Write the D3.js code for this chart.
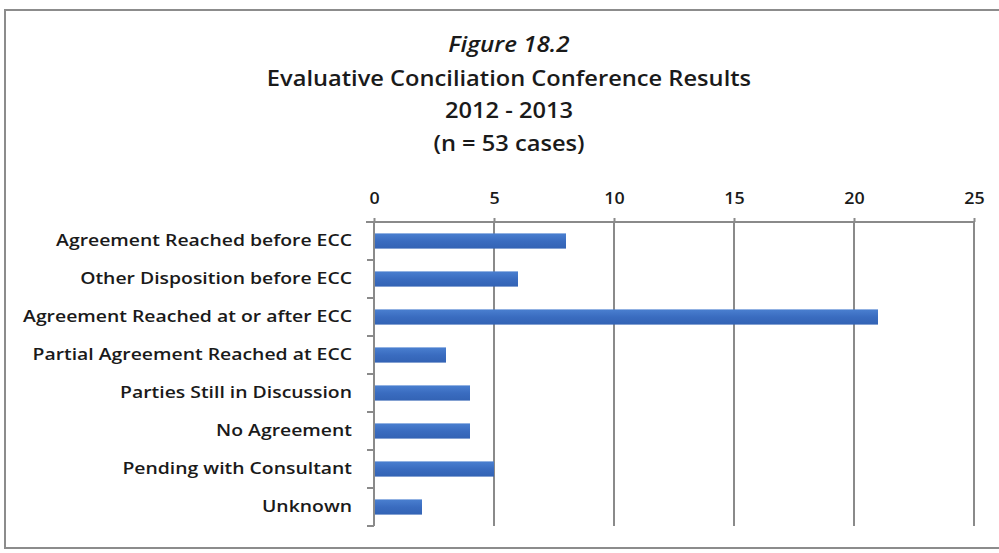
<!DOCTYPE html>
<html>
<head>
<meta charset="utf-8">
<script src="https://cdn.jsdelivr.net/npm/d3@7"></script>
<style>
  body { margin: 0; background: #fff; }
  svg { display: block; }
</style>
</head>
<body>
<div id="chart"></div>
<script>
const categories = [
  "Agreement Reached before ECC",
  "Other Disposition before ECC",
  "Agreement Reached at or after ECC",
  "Partial Agreement Reached at ECC",
  "Parties Still in Discussion",
  "No Agreement",
  "Pending with Consultant",
  "Unknown"
];
const values = [8, 6, 21, 3, 4, 4, 5, 2];
const tickValues = [0, 5, 10, 15, 20, 25];
const titleLines = ["Figure 18.2", "Evaluative Conciliation Conference Results", "2012 - 2013", "(n = 53 cases)"];

const W = 999, H = 553;
const margin = { top: 222, left: 374, right: 25, bottom: 27 };
const width = W - margin.left - margin.right,
      height = H - margin.top - margin.bottom;
const font = "'Open Sans', 'DejaVu Sans', sans-serif";

// widen glyphs a bit, the source font is drawn stretched
function stretch(sel, k) {
  sel.each(function () {
    const len = this.getComputedTextLength();
    d3.select(this)
      .attr("textLength", len * k)
      .attr("lengthAdjust", "spacingAndGlyphs");
  });
}

const svg = d3.select("#chart").append("svg")
    .attr("width", W)
    .attr("height", H);

// outer frame
svg.append("rect")
    .attr("x", 5).attr("y", 10)
    .attr("width", W + 10).attr("height", 538)
    .attr("fill", "#fff")
    .attr("stroke", "#8c8c8c")
    .attr("stroke-width", 2);

// titles
const titleY = [46, 80, 112, 145];
svg.selectAll(".title")
    .data(titleLines)
    .enter()
    .append("text")
    .attr("class", "title")
    .attr("x", 509)
    .attr("y", (d, i) => titleY[i])
    .attr("text-anchor", "middle")
    .attr("dominant-baseline", "middle")
    .attr("font-family", font)
    .attr("font-size", (d, i) => i === 0 ? "22px" : "21.5px")
    .attr("font-weight", 600)
    .attr("font-style", (d, i) => i === 0 ? "italic" : "normal")
    .attr("fill", "#1a1a1a")
    .text(d => d)
    .call(stretch, 1.1);

const g = svg.append("g")
    .attr("transform", `translate(${margin.left},${margin.top})`);

const x = d3.scaleLinear()
    .domain([0, 25])
    .range([0, width]);

const y = d3.scaleBand()
    .domain(categories)
    .range([0, height])
    .paddingInner(0.6)
    .paddingOuter(0.3);

// vertical gridlines
g.selectAll(".grid")
    .data(tickValues.slice(1))
    .enter()
    .append("line")
    .attr("class", "grid")
    .attr("x1", d => x(d)).attr("x2", d => x(d))
    .attr("y1", 0).attr("y2", height)
    .attr("stroke", "#8a8a8a")
    .attr("stroke-width", 2);

// top axis
const xAxis = g.append("g")
    .call(d3.axisTop(x).tickValues(tickValues).tickSize(4).tickPadding(14));
xAxis.select(".domain").attr("stroke", "#8a8a8a").attr("stroke-width", 2)
    .attr("d", `M-8,0H${width}`);
xAxis.selectAll(".tick line").attr("stroke", "#8a8a8a").attr("stroke-width", 2);
xAxis.selectAll(".tick text")
    .attr("font-family", font)
    .attr("font-size", "15.5px")
    .attr("font-weight", 600)
    .attr("fill", "#1a1a1a")
    .call(stretch, 1.15);

// left axis with ticks at band boundaries
const yAxis = g.append("g");
yAxis.append("line")
    .attr("x1", 0).attr("x2", 0)
    .attr("y1", 0).attr("y2", height)
    .attr("stroke", "#8a8a8a")
    .attr("stroke-width", 2);
const bounds = d3.range(categories.length + 1).map(i => i * height / categories.length);
yAxis.selectAll(".ytick")
    .data(bounds)
    .enter()
    .append("line")
    .attr("class", "ytick")
    .attr("x1", -7).attr("x2", 0)
    .attr("y1", d => d).attr("y2", d => d)
    .attr("stroke", "#8a8a8a")
    .attr("stroke-width", 2);

yAxis.selectAll(".ylabel")
    .data(categories)
    .enter()
    .append("text")
    .attr("class", "ylabel")
    .attr("x", -22)
    .attr("y", d => y(d) + y.bandwidth() / 2)
    .attr("text-anchor", "end")
    .attr("dominant-baseline", "middle")
    .attr("font-family", font)
    .attr("font-size", "17px")
    .attr("font-weight", 600)
    .attr("fill", "#1a1a1a")
    .text(d => d)
    .call(stretch, 1.14);

// bars
const grad = svg.append("defs").append("linearGradient")
    .attr("id", "barGrad")
    .attr("x1", 0).attr("y1", 0).attr("x2", 0).attr("y2", 1);
grad.append("stop").attr("offset", "0%").attr("stop-color", "#4a7fd0");
grad.append("stop").attr("offset", "50%").attr("stop-color", "#3a6cc0");
grad.append("stop").attr("offset", "100%").attr("stop-color", "#3363b4");

g.selectAll(".bar")
    .data(values)
    .enter()
    .append("rect")
    .attr("class", "bar")
    .attr("x", 1)
    .attr("y", (d, i) => y(categories[i]))
    .attr("width", d => x(d) - 1)
    .attr("height", y.bandwidth())
    .attr("fill", "url(#barGrad)");
</script>
</body>
</html>
